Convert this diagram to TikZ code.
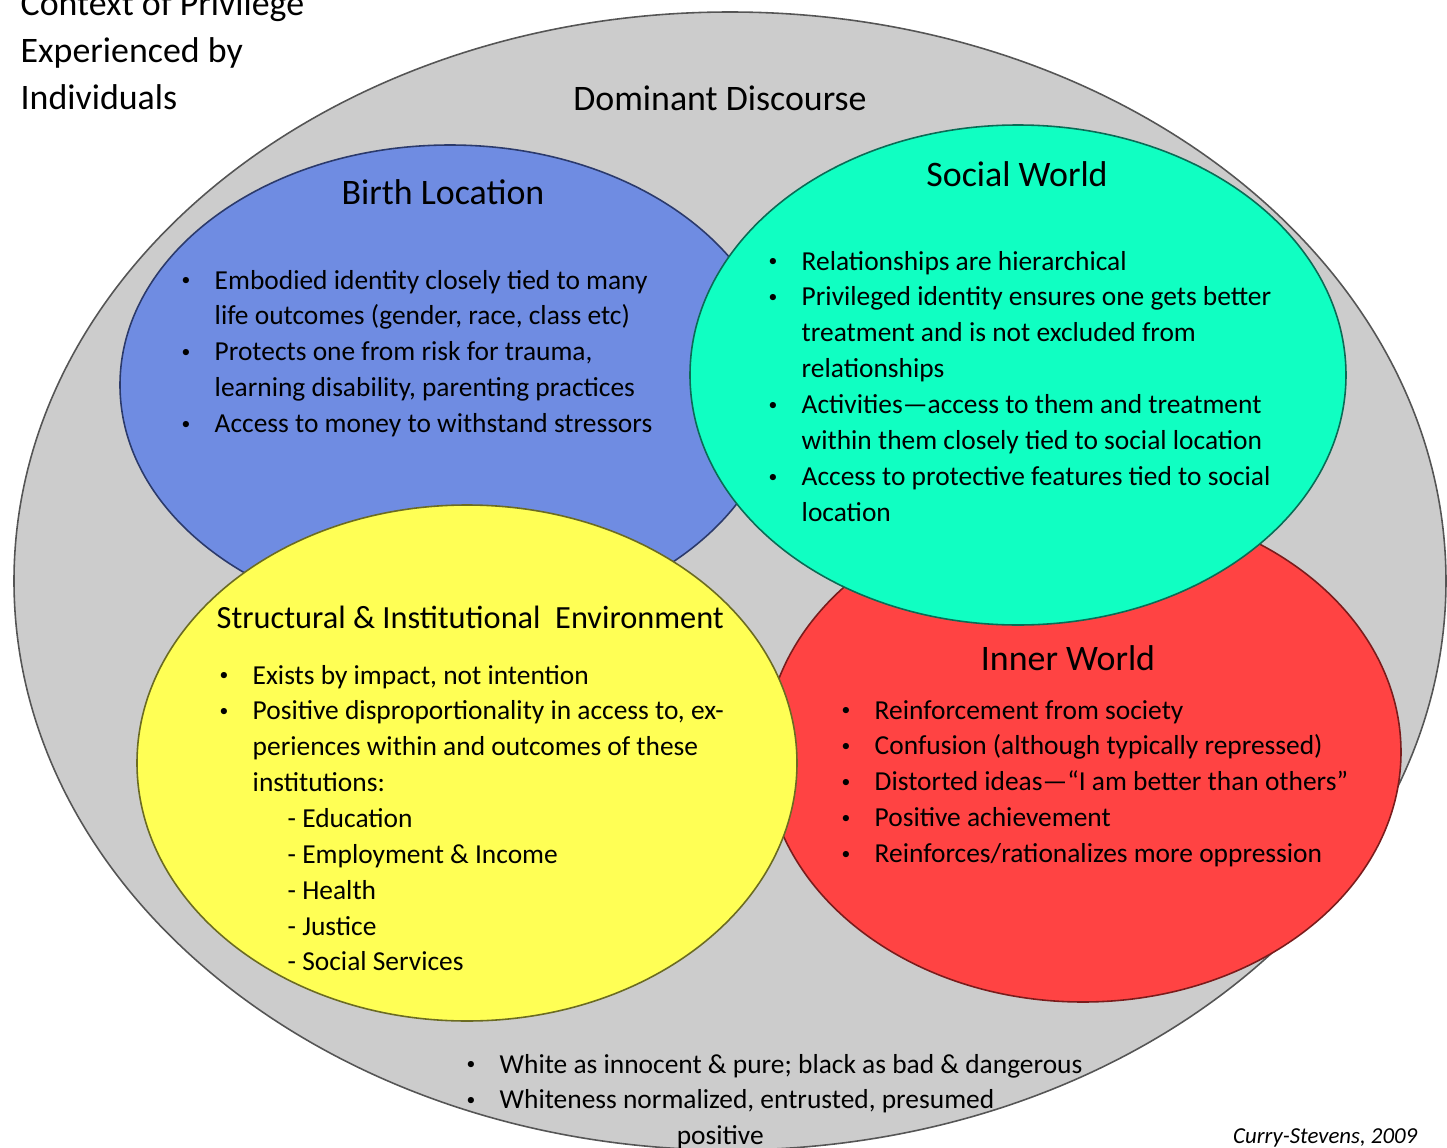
\documentclass[tikz,border=0pt]{standalone}
\usepackage{fontspec}
\setmainfont{Carlito}
\usepackage{tikz}

\definecolor{discoursegray}{HTML}{CCCCCC}
\definecolor{discourseedge}{HTML}{555555}
\definecolor{birthblue}{HTML}{6F8CE2}
\definecolor{birthedge}{HTML}{2B3A6B}
\definecolor{socialteal}{HTML}{10FFC2}
\definecolor{socialedge}{HTML}{0B6B55}
\definecolor{innerred}{HTML}{FF4343}
\definecolor{inneredge}{HTML}{7A1C1C}
\definecolor{structyellow}{HTML}{FFFF55}
\definecolor{structedge}{HTML}{6B6B22}

% small list dot and a two column list
\newcommand{\bul}{\raisebox{0.9pt}{\fontsize{5}{5}\selectfont\textbullet}}
\newcommand{\blist}[1]{\begin{tabular}[t]{@{}p{0.33cm}@{}l@{}}#1\end{tabular}}

\begin{document}
\begin{tikzpicture}[x=0.01cm, y=-0.01cm,
		bubble/.style={line width=0.45pt},
		heading/.style={font=\fontsize{10.2}{13.4}\selectfont, inner sep=0pt, anchor=base},
		bodytext/.style={font=\fontsize{7.8}{10.2}\selectfont, inner sep=0pt, anchor=base west}]
	\useasboundingbox (0,0) rectangle (1447,1148);

	% Centres
	\coordinate (discourse) at (730,581);
	\coordinate (birth) at (450,385);
	\coordinate (inner) at (1083,752);
	\coordinate (struct) at (467,763);
	\coordinate (social) at (1018,375);

	% The spheres
	\filldraw[bubble, fill=discoursegray, draw=discourseedge] (discourse) ellipse [x radius=716, y radius=569];
	\filldraw[bubble, fill=birthblue, draw=birthedge] (birth) ellipse [x radius=330, y radius=240];
	\filldraw[bubble, fill=innerred, draw=inneredge] (inner) ellipse [x radius=318, y radius=250];
	\filldraw[bubble, fill=structyellow, draw=structedge] (struct) ellipse [x radius=330, y radius=258];
	\filldraw[bubble, fill=socialteal, draw=socialedge] (social) ellipse [x radius=328, y radius=250];

	% Headings
	\node[heading, anchor=base west] (context) at (20,15) {\begin{tabular}[t]{@{}l@{}}Context of Privilege\\Experienced by\\Individuals\end{tabular}};
	\node[heading] (dominant) at (720,110) {Dominant Discourse};
	\node[heading] (birthtitle) at (443,204) {Birth Location};
	\node[heading] (socialtitle) at (1017,186) {Social World};
	\node[heading] (innertitle) at (1068,670) {Inner World};
	\node[heading, anchor=base west, font=\fontsize{9.2}{12}\selectfont] (structtitle) at (216,628) {Structural \& Institutional\ \ Environment};

	% Lists
	\node[bodytext] (birthlist) at (181,289) {\blist{
		\bul & Embodied identity closely tied to many\\
		& life outcomes (gender, race, class etc)\\
		\bul & Protects one from risk for trauma,\\
		& learning disability, parenting practices\\
		\bul & Access to money to withstand stressors}};
	\node[bodytext] (sociallist) at (768,270) {\blist{
		\bul & Relationships are hierarchical\\
		\bul & Privileged identity ensures one gets better\\
		& treatment and is not excluded from\\
		& relationships\\
		\bul & Activities—access to them and treatment\\
		& within them closely tied to social location\\
		\bul & Access to protective features tied to social\\
		& location}};
	\node[bodytext] (structlist) at (219,684) {\blist{
		\bul & Exists by impact, not intention\\
		\bul & Positive disproportionality in access to, ex-\\
		& periences within and outcomes of these\\
		& institutions:\\
		& \hspace*{0.35cm}- Education\\
		& \hspace*{0.35cm}- Employment \& Income\\
		& \hspace*{0.35cm}- Health\\
		& \hspace*{0.35cm}- Justice\\
		& \hspace*{0.35cm}- Social Services}};
	\node[bodytext] (innerlist) at (841,719) {\blist{
		\bul & Reinforcement from society\\
		\bul & Confusion (although typically repressed)\\
		\bul & Distorted ideas—“I am better than others”\\
		\bul & Positive achievement\\
		\bul & Reinforces/rationalizes more oppression}};
	\node[bodytext] (discourselist) at (466,1073) {\blist{
		\bul & White as innocent \& pure; black as bad \& dangerous\\
		\bul & Whiteness normalized, entrusted, presumed\\
		& \hspace*{1.77cm}positive}};

	% Source
	\node[inner sep=0pt, anchor=base east, font=\fontsize{6.5}{8}\selectfont\itshape] (credit) at (1418,1143) {Curry-Stevens, 2009};
\end{tikzpicture}
\end{document}
